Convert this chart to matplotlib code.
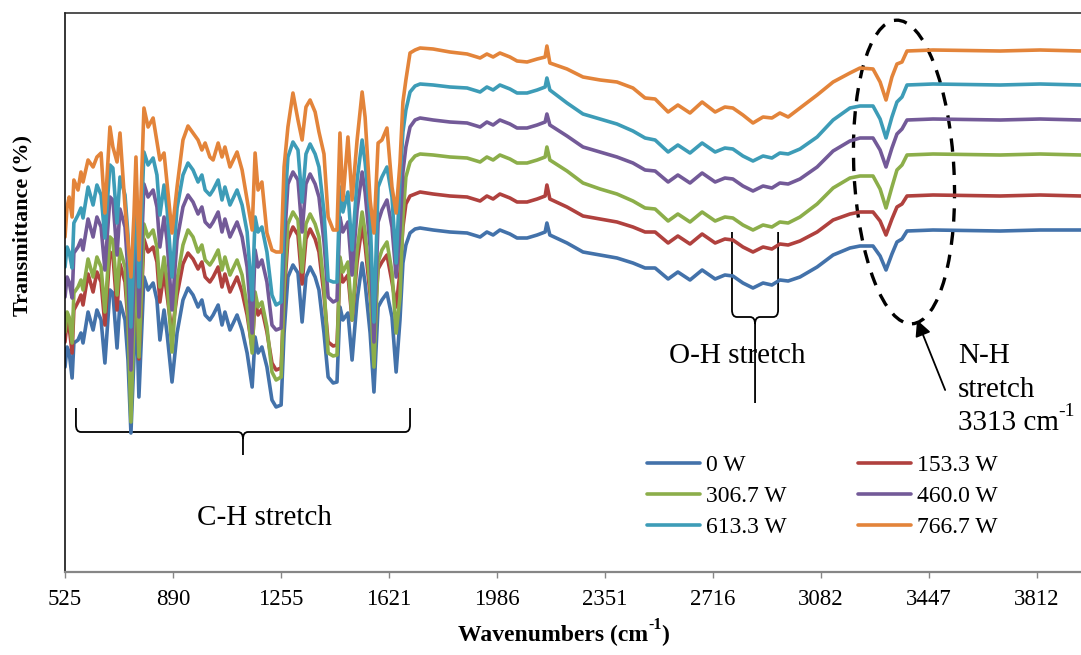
import matplotlib
matplotlib.use("Agg")
import matplotlib.pyplot as plt
from matplotlib.path import Path
from matplotlib.patches import PathPatch, Ellipse
from matplotlib.transforms import IdentityTransform

# wavenumber grid (cm-1)
wavenumber = [
    525, 532, 539, 549, 555, 569, 579, 586, 603, 620,
    633, 647, 660, 677, 687, 701, 711, 728, 738, 748,
    758, 765, 775, 792, 806, 823, 836, 846, 860, 870,
    887, 904, 924, 941, 958, 975, 988, 999, 1015, 1026,
    1043, 1056, 1066, 1083, 1107, 1124, 1141, 1158, 1168, 1178,
    1191, 1208, 1225, 1239, 1256, 1266, 1279, 1296, 1313, 1327,
    1340, 1354, 1371, 1384, 1401, 1415, 1432, 1445, 1455, 1465,
    1482, 1496, 1513, 1530, 1540, 1557, 1570, 1584, 1597, 1614,
    1631, 1645, 1658, 1668, 1678, 1692, 1709, 1726, 1770, 1827,
    1885, 1929, 1952, 1973, 1996, 2030, 2054, 2088, 2122, 2149,
    2155, 2165, 2223, 2277, 2335, 2392, 2446, 2487, 2521, 2565,
    2598, 2639, 2680, 2724, 2757, 2784, 2818, 2852, 2886, 2916,
    2943, 2971, 3011, 3069, 3123, 3180, 3214, 3258, 3282, 3302,
    3322, 3339, 3356, 3373, 3461, 3688, 3823, 3962]

# transmittance (arbitrary offset units) per power level
t_0w = [
    205, 225, 220, 194, 229, 232, 239, 229, 260, 242,
    262, 252, 209, 282, 279, 224, 270, 252, 212, 139,
    212, 280, 175, 295, 282, 289, 272, 232, 262, 239,
    190, 239, 272, 284, 277, 265, 272, 257, 252, 257,
    267, 247, 260, 242, 257, 242, 219, 185, 235, 219,
    225, 205, 172, 165, 167, 239, 295, 307, 299, 250,
    295, 305, 295, 282, 239, 195, 189, 190, 265, 252,
    259, 212, 272, 309, 289, 239, 180, 265, 272, 279,
    255, 200, 252, 309, 327, 339, 343, 344, 342, 340,
    339, 335, 340, 337, 342, 338, 334, 334, 337, 340,
    349, 337, 329, 320, 317, 314, 309, 304, 304, 293,
    300, 292, 302, 293, 297, 296, 289, 284, 289, 287,
    292, 291, 295, 305, 317, 324, 326, 326, 316, 302,
    318, 330, 333, 341, 342, 341, 342, 342]

t_153w = [
    230, 250, 245, 219, 262, 270, 277, 267, 298, 280,
    300, 290, 247, 320, 317, 262, 308, 290, 250, 190,
    250, 318, 213, 333, 320, 325, 310, 270, 300, 277,
    239, 277, 308, 319, 313, 303, 310, 295, 290, 295,
    305, 285, 298, 280, 295, 280, 257, 224, 272, 257,
    263, 240, 209, 202, 204, 275, 333, 345, 337, 288,
    333, 343, 333, 320, 277, 230, 226, 227, 303, 290,
    297, 252, 310, 347, 327, 277, 239, 303, 310, 317,
    290, 265, 300, 345, 368, 376, 378, 380, 378, 376,
    375, 371, 376, 373, 378, 374, 370, 370, 373, 376,
    387, 373, 365, 356, 353, 350, 345, 340, 340, 329,
    336, 328, 338, 329, 333, 332, 325, 320, 325, 323,
    328, 327, 331, 340, 352, 358, 360, 360, 351, 337,
    353, 365, 368, 376, 377, 376, 377, 376]

t_307w = [
    240, 260, 255, 229, 279, 285, 292, 282, 313, 295,
    315, 305, 260, 335, 332, 277, 323, 305, 255, 150,
    250, 330, 215, 348, 335, 342, 325, 285, 315, 292,
    220, 292, 327, 342, 335, 320, 327, 312, 307, 312,
    322, 302, 315, 297, 312, 297, 265, 219, 280, 265,
    270, 245, 200, 192, 195, 285, 348, 360, 352, 300,
    348, 358, 348, 335, 285, 219, 216, 217, 315, 300,
    310, 252, 322, 360, 340, 285, 205, 310, 322, 330,
    300, 239, 275, 355, 395, 410, 416, 418, 417, 415,
    414, 410, 415, 412, 417, 413, 409, 409, 412, 415,
    425, 412, 401, 389, 383, 378, 371, 364, 363, 351,
    358, 350, 360, 351, 355, 354, 347, 342, 347, 345,
    350, 349, 355, 368, 384, 394, 396, 396, 383, 364,
    385, 402, 407, 417, 418, 417, 418, 417]

t_460w = [
    275, 295, 290, 274, 319, 325, 332, 322, 353, 335,
    355, 345, 302, 375, 372, 317, 363, 345, 300, 202,
    290, 365, 255, 388, 375, 382, 365, 325, 355, 332,
    262, 332, 365, 377, 370, 358, 365, 350, 345, 350,
    360, 340, 353, 335, 350, 335, 305, 239, 322, 305,
    312, 290, 247, 242, 244, 325, 388, 400, 392, 340,
    388, 398, 388, 375, 330, 275, 270, 272, 355, 340,
    350, 297, 362, 400, 380, 325, 230, 350, 362, 372,
    345, 295, 342, 400, 425, 445, 452, 454, 452, 450,
    449, 445, 450, 447, 452, 448, 444, 444, 447, 450,
    458, 447, 436, 425, 420, 415, 409, 402, 401, 390,
    397, 389, 399, 390, 394, 393, 386, 381, 386, 384,
    389, 388, 393, 405, 421, 431, 434, 434, 422, 405,
    424, 438, 443, 452, 453, 452, 453, 452]

t_613w = [
    305, 325, 320, 304, 349, 357, 364, 354, 385, 367,
    387, 377, 334, 407, 404, 349, 395, 377, 337, 245,
    320, 395, 285, 420, 407, 414, 397, 357, 387, 364,
    295, 364, 397, 409, 402, 390, 397, 382, 377, 382,
    392, 372, 385, 367, 382, 367, 340, 272, 355, 340,
    345, 320, 277, 267, 270, 355, 415, 430, 422, 370,
    418, 428, 418, 405, 360, 292, 290, 290, 385, 360,
    380, 322, 392, 432, 410, 355, 250, 385, 395, 405,
    375, 309, 392, 440, 462, 480, 486, 488, 487, 485,
    484, 480, 485, 482, 487, 483, 479, 479, 482, 485,
    494, 482, 469, 458, 453, 448, 441, 434, 432, 420,
    427, 419, 429, 420, 424, 423, 416, 411, 416, 414,
    419, 418, 423, 435, 452, 464, 466, 466, 453, 434,
    455, 470, 475, 487, 488, 487, 488, 487]

t_767w = [
    335, 365, 375, 355, 392, 382, 400, 390, 412, 405,
    415, 419, 359, 445, 425, 410, 439, 365, 330, 295,
    355, 415, 312, 464, 445, 454, 430, 412, 419, 389,
    339, 385, 432, 446, 439, 432, 422, 429, 415, 412,
    429, 415, 425, 405, 420, 402, 372, 342, 419, 382,
    390, 339, 322, 320, 320, 405, 445, 479, 452, 432,
    465, 472, 460, 440, 418, 355, 342, 342, 439, 372,
    435, 372, 432, 480, 455, 372, 339, 429, 432, 444,
    385, 359, 409, 470, 492, 519, 522, 524, 523, 520,
    518, 514, 518, 515, 519, 515, 511, 510, 513, 515,
    526, 509, 503, 495, 492, 490, 484, 474, 473, 460,
    467, 459, 470, 460, 465, 464, 457, 449, 455, 454,
    459, 455, 464, 477, 490, 499, 504, 503, 490, 472,
    495, 508, 510, 521, 522, 521, 522, 521]

labels = ["0 W", "153.3 W", "306.7 W", "460.0 W", "613.3 W", "766.7 W"]
colors = ["#4372AA", "#B0413E", "#8CAE4A", "#735A98", "#3D9CB7", "#E3843A"]
tick_labels = ["525", "890", "1255", "1621", "1986", "2351", "2716", "3082", "3447", "3812"]


def brace(ax, x0, x1, y, tip, depth, rx, ry):
    # curly bracket opening upwards, pointing down at the middle
    xm = (x0 + x1) / 2
    verts = [(x0, y + tip), (x0, y + ry), (x0, y), (x0 + rx, y),
             (xm - rx, y), (xm, y), (xm, y - ry), (xm, y - depth),
             (xm, y - ry), (xm, y), (xm + rx, y),
             (x1 - rx, y), (x1, y), (x1, y + ry), (x1, y + tip)]
    codes = [Path.MOVETO, Path.LINETO, Path.CURVE3, Path.CURVE3,
             Path.LINETO, Path.CURVE3, Path.CURVE3, Path.LINETO,
             Path.MOVETO, Path.CURVE3, Path.CURVE3,
             Path.LINETO, Path.CURVE3, Path.CURVE3, Path.LINETO]
    ax.add_patch(PathPatch(Path(verts, codes), fill=False, lw=1.3, ec="black"))


plt.rcParams["font.family"] = "Liberation Serif"

fig = plt.figure(figsize=(10.81, 6.55), dpi=100)
ax = fig.add_axes([65 / 1081, 83 / 655, 1016 / 1081, 559 / 655])

series = [t_0w, t_153w, t_307w, t_460w, t_613w, t_767w]
lines = []
for values, lab, col in zip(series, labels, colors):
    ln, = ax.plot(wavenumber, values, color=col, lw=2.6, label=lab,
                  solid_joinstyle="round", solid_capstyle="round")
    lines.append(ln)

ax.set_xlim(525, 3961.5)
ax.set_ylim(0, 559)
ax.set_yticks([])
ax.set_xticks([float(t) for t in tick_labels])
ax.set_xticklabels(tick_labels, fontsize=16.5)
ax.tick_params(axis="x", direction="out", length=4.5, width=1.0,
               color="#868686", pad=8)

ax.spines["right"].set_visible(False)
ax.spines["bottom"].set_color("#868686")
ax.spines["bottom"].set_linewidth(1.6)
ax.spines["left"].set_linewidth(1.1)
ax.spines["top"].set_linewidth(1.1)
ax.spines["top"].set_color("#222222")

# axis titles, superscript drawn as a small separate text
xl = fig.text(648 / 1081, 1 - 641 / 655, "Wavenumbers (cm", fontsize=17,
              fontweight="bold", ha="right", va="baseline")
sup = ax.annotate("-1", xy=(1.0, 0.62), xycoords=xl, fontsize=11.5,
                  fontweight="bold", ha="left", va="bottom", annotation_clip=False)
ax.annotate(")", xy=(1.0, 0.0), xycoords=(sup, xl), fontsize=17,
            fontweight="bold", ha="left", va="bottom", annotation_clip=False)

ax.set_ylabel("Transmittance (%)", fontsize=16, fontweight="bold")
ax.yaxis.set_label_coords((22 - 65) / 1016, (572 - 225) / 559)
ax.yaxis.label.set_verticalalignment("center")

# legend laid out row by row in two columns
order = [0, 2, 4, 1, 3, 5]
ax.legend([lines[i] for i in order], [labels[i] for i in order], ncol=2,
          loc="upper left", bbox_to_anchor=(0.573, 0.21), frameon=False,
          fontsize=17, handlelength=2.25, handletextpad=0.25,
          columnspacing=3.0, labelspacing=0.4, borderpad=0, borderaxespad=0)

# band annotations
brace(ax, 562, 1692, 140, 24, 23, 17, 7)
ax.text(1201, 47, "C-H stretch", ha="center", va="baseline", fontsize=21)

brace(ax, 2781, 2937, 255, 85, 86, 17, 7)
ax.text(2798, 209, "O-H stretch", ha="center", va="baseline", fontsize=21)

# dashed ellipse round the N-H band, in figure pixels
ax.add_patch(Ellipse((904, 655 - 172), 100, 304, angle=3, fill=False,
                     ec="black", lw=2.4, ls=(0, (4, 3)),
                     transform=IdentityTransform()))
ax.annotate("", xy=(3407, 252), xytext=(3502, 182),
            arrowprops=dict(arrowstyle="-|>", lw=1.3, color="black",
                            mutation_scale=24, shrinkA=0, shrinkB=0))
ax.text(3545, 209, "N-H", ha="left", va="baseline", fontsize=21)
ax.text(3545, 175, "stretch", ha="left", va="baseline", fontsize=21)
nh = ax.text(3545, 142, "3313 cm", ha="left", va="baseline", fontsize=21)
ax.annotate("-1", xy=(1.0, 0.6), xycoords=nh, fontsize=14,
            ha="left", va="bottom", annotation_clip=False)

fig.savefig("out.png", dpi=100)
